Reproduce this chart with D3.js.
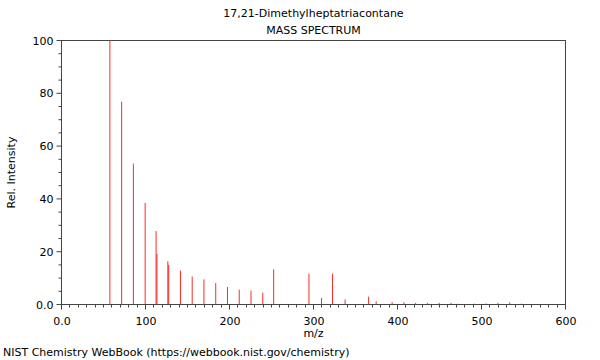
<!DOCTYPE html>
<html><head><meta charset="utf-8">
<script src="https://cdn.jsdelivr.net/npm/d3@7"></script>
<style>body{margin:0;background:#fff}svg{display:block}text{font-family:"DejaVu Sans",sans-serif;fill:#000}</style>
</head><body>
<svg id="c" width="600" height="360"></svg>
<script>
const title = "17,21-Dimethylheptatriacontane";
const subtitle = "MASS SPECTRUM";
const mz = [57,71,85,99,112,113,126,127,141,155,169,183,197,211,225,239,252,294,309,322,337,365,374,393,407,421,435,449,463,471,491,505,519,533,547];
const intensity = [100,76.8,53.4,38.5,27.8,19.2,16.4,15.0,12.9,10.6,9.5,8.1,6.6,5.6,5.3,4.5,13.3,11.7,2.5,11.7,1.9,3.0,1.2,0.9,0.9,0.6,0.6,0.6,0.6,0.3,0.3,0.4,0.6,0.8,0.3];
const xTicks = [0,100,200,300,400,500,600];
const xTickLabels = ["0.0","100","200","300","400","500","600"];
const yTicks = [0,20,40,60,80,100];
const yTickLabels = ["0.0","20","40","60","80","100"];

const svg = d3.select("#c");
const L=61.5, R=565.5, T=40.5, B=304.5;
const x = d3.scaleLinear().domain([0,600]).range([L+0.5,R+0.5]);
const y = d3.scaleLinear().domain([0,100]).range([B,T]);

// frame
svg.append("rect").attr("x",L).attr("y",T).attr("width",R-L).attr("height",B-T)
  .attr("fill","none").attr("stroke","#444").attr("stroke-width",1);

// peaks
svg.append("g").selectAll("line").data(mz).join("line")
  .attr("x1",(d)=>x(d)).attr("x2",(d)=>x(d))
  .attr("y1",y(0)).attr("y2",(d,i)=>y(intensity[i]))
  .attr("stroke","#ff2a2a").attr("stroke-width",1);

// x axis
const xMinor = d3.range(0,601,10);
const gx = svg.append("g");
gx.selectAll("line.mn").data(xMinor).join("line")
  .attr("x1",d=>Math.round(x(d))-0.5).attr("x2",d=>Math.round(x(d))-0.5).attr("y1",B).attr("y2",d=>d%100===0?B+5:B+3)
  .attr("stroke","#444").attr("stroke-width",1);
gx.selectAll("text").data(xTicks).join("text")
  .attr("x",d=>x(d)).attr("y",B+20).attr("text-anchor","middle").attr("font-size",11)
  .text((d,i)=>xTickLabels[i]);
svg.append("line").attr("x1",L).attr("x2",R).attr("y1",B).attr("y2",B).attr("stroke","#444");

// y axis
const yMinor = d3.range(0,101,5);
const gy = svg.append("g");
gy.selectAll("line").data(yMinor).join("line")
  .attr("x1",d=>d%20===0?L-5:L-3).attr("x2",L).attr("y1",d=>y(d)).attr("y2",d=>y(d))
  .attr("stroke","#444").attr("stroke-width",1);
gy.selectAll("text").data(yTicks).join("text")
  .attr("x",L-8).attr("y",d=>y(d)+4).attr("text-anchor","end").attr("font-size",11)
  .text((d,i)=>yTickLabels[i]);

// titles
svg.append("text").attr("x",(L+R)/2).attr("y",17).attr("text-anchor","middle").attr("font-size",11).text(title);
svg.append("text").attr("x",(L+R)/2).attr("y",34).attr("text-anchor","middle").attr("font-size",11).text(subtitle);
svg.append("text").attr("x",(L+R)/2).attr("y",337).attr("text-anchor","middle").attr("font-size",11).text("m/z");
svg.append("text").attr("transform",`translate(15,${(T+B)/2}) rotate(-90)`).attr("text-anchor","middle").attr("font-size",11).text("Rel. Intensity");
svg.append("text").attr("x",3).attr("y",356).attr("font-size",11).text("NIST Chemistry WebBook (https://webbook.nist.gov/chemistry)");
</script>
</body></html>
